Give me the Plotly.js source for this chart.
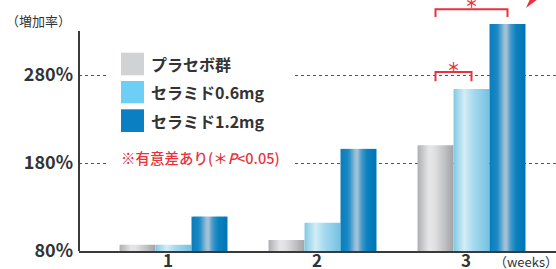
<!DOCTYPE html>
<html>
<head>
<meta charset="utf-8">
<script src="https://cdn.plot.ly/plotly-3.0.1.min.js"></script>
<style>html,body{margin:0;padding:0;background:#fff;}#chart{width:556px;height:269px;}</style>
</head>
<body>
<div id="chart"></div>
<script>
// ---- data ----
const categories = ['1', '2', '3'];
const seriesNames = ['プラセボ群', 'セラミド0.6mg', 'セラミド1.2mg'];
const placebo = [87, 92.5, 200];
const ceramide06 = [87, 112, 264];
const ceramide12 = [119, 196, 338];
const yTickVals = [80, 180, 280];
const yTickText = ['80%', '180%', '280%'];

// ---- styling ----
const W = 0.2416;          // bar width (category units)
const SHIFT = 0.037;       // bars sit slightly right of the tick labels
const N = 18;              // strips per bar (cylinder shading)
const gradients = [
  [[0, '#aeafb2'], [0.33, '#e8e8ea'], [0.5, '#dedee0'], [1, '#a2a3a7']],
  [[0, '#80c9e6'], [0.3, '#d3edf6'], [0.55, '#a6daee'], [1, '#74c2e2']],
  [[0, '#0a7cbc'], [0.22, '#1a8ac5'], [0.45, '#b3c9da'], [0.6, '#3b95c8'], [0.75, '#0a80bf'], [1, '#0076b4']]
];
const swatchColors = ['#d1d2d4', '#6dcff6', '#0a7fc2'];
const red = '#e8323c';
const JP = '"Noto Sans CJK JP", "Noto Sans", sans-serif';

function hex2rgb(h) { return [1, 3, 5].map(i => parseInt(h.substr(i, 2), 16)); }
function interp(stops, t) {
  for (let i = 0; i < stops.length - 1; i++) {
    const [p0, c0] = stops[i], [p1, c1] = stops[i + 1];
    if (t >= p0 && t <= p1) {
      const f = (t - p0) / (p1 - p0), a = hex2rgb(c0), b = hex2rgb(c1);
      return 'rgb(' + a.map((v, k) => Math.round(v + (b[k] - v) * f)).join(',') + ')';
    }
  }
  return stops[stops.length - 1][1];
}

const allSeries = [placebo, ceramide06, ceramide12];
const traces = [];
allSeries.forEach((vals, s) => {
  const base = (s - 1.5) * W + SHIFT;
  for (let i = 0; i < N; i++) {
    const sw = W / N;
    traces.push({
      type: 'bar', x: categories, y: vals, name: seriesNames[s],
      offset: base + i * sw, width: i < N - 1 ? sw * 1.7 : sw,
      marker: { color: interp(gradients[s], (i + 0.5) / N), line: { width: 0 } },
      showlegend: false, hoverinfo: 'skip'
    });
  }
});

// pixel -> paper helpers for decorations
const L = 79, PW = 477, PH = 251;
const px = x => (x - L) / PW;
const py = y => (PH - y) / PH;

const g3 = 2 + SHIFT;  // centre of group 3
const shapes = [
  // y axis line
  { type: 'line', xref: 'paper', yref: 'y', x0: 0, x1: 0, y0: 80, y1: 330, line: { color: '#3a3a3a', width: 2 } },
  // white covers over gridlines
  { type: 'rect', xref: 'paper', yref: 'paper', x0: px(106), x1: px(293), y0: py(140), y1: py(45), fillcolor: '#fff', line: { width: 0 }, layer: 'above' },
  { type: 'rect', xref: 'paper', yref: 'paper', x0: px(106), x1: px(293), y0: py(171), y1: py(148), fillcolor: '#fff', line: { width: 0 }, layer: 'above' },
  // brackets (group 3)
  { type: 'path', xref: 'x', yref: 'y', path: `M ${g3 - W},346 L ${g3 - W},354.7 L ${g3 + W},354.7 L ${g3 + W},346`, line: { color: red, width: 2 }, layer: 'above' },
  { type: 'path', xref: 'x', yref: 'y', path: `M ${g3 - W},273 L ${g3 - W},283.4 L ${g3},283.4 L ${g3},273`, line: { color: red, width: 2 }, layer: 'above' },
  // red arrow head (top right)
  { type: 'path', xref: 'paper', yref: 'paper', path: `M ${px(526)},${py(8)} L ${px(530)},${py(-1)} L ${px(538)},${py(-1)} Z`, fillcolor: red, line: { width: 0 }, layer: 'above' }
];
const swatchY = [[52.7, 75.3], [81, 103.3], [109.3, 132]];
swatchY.forEach((r, i) => shapes.push({
  type: 'rect', xref: 'paper', yref: 'paper', x0: px(121), x1: px(144), y0: py(r[1]), y1: py(r[0]),
  fillcolor: swatchColors[i], line: { width: 0 }, layer: 'above'
}));

const annotations = [
  { text: '（増加率）', xref: 'paper', yref: 'paper', x: px(4), y: py(20), xanchor: 'left', yanchor: 'middle', showarrow: false, font: { family: JP, size: 13, color: '#333' } },
  { text: '（weeks）', xref: 'paper', yref: 'paper', x: px(492), y: py(261), xanchor: 'left', yanchor: 'middle', showarrow: false, font: { family: JP, size: 13, color: '#333' } },
  { text: '※有意差あり(＊<i>P</i>&lt;0.05)', xref: 'paper', yref: 'paper', x: px(119), y: py(157), xanchor: 'left', yanchor: 'middle', showarrow: false, font: { family: JP, size: 14.5, color: red, weight: 500 } },
  { text: '＊', xref: 'x', yref: 'paper', x: g3, y: py(3), xanchor: 'center', yanchor: 'middle', showarrow: false, font: { family: JP, size: 13, color: red, weight: 700 } },
  { text: '＊', xref: 'x', yref: 'paper', x: g3 - W / 2, y: py(66.5), xanchor: 'center', yanchor: 'middle', showarrow: false, font: { family: JP, size: 13, color: red, weight: 700 } }
];
seriesNames.forEach((n, i) => annotations.push({
  text: n, xref: 'paper', yref: 'paper', x: px(149), y: py((swatchY[i][0] + swatchY[i][1]) / 2),
  xanchor: 'left', yanchor: 'middle', showarrow: false, font: { family: JP, size: 16, color: '#333', weight: 600 }
}));

const layout = {
  width: 556, height: 269,
  margin: { l: L, r: 0, t: 0, b: 18, pad: 0 },
  paper_bgcolor: '#fff', plot_bgcolor: '#fff',
  barmode: 'overlay', showlegend: false,
  xaxis: {
    type: 'category', range: [-0.6342 + SHIFT, 2.5671 + SHIFT], showline: true, linecolor: '#3a3a3a', linewidth: 2,
    ticks: '', showgrid: false, zeroline: false, ticklabelstandoff: -6, fixedrange: true,
    tickfont: { family: JP, size: 17, color: '#333', weight: 600 }
  },
  yaxis: {
    range: [80, 80 + 251 / 0.88], tickvals: yTickVals, ticktext: yTickText,
    showgrid: true, gridcolor: '#555', griddash: 'dot', gridwidth: 1,
    zeroline: false, showline: false, ticks: '', ticklabelstandoff: 5, fixedrange: true,
    tickfont: { family: JP, size: 18, color: '#333', weight: 600 }
  },
  shapes: shapes, annotations: annotations
};

Plotly.newPlot('chart', traces, layout, { displayModeBar: false, staticPlot: true });
</script>
</body>
</html>
